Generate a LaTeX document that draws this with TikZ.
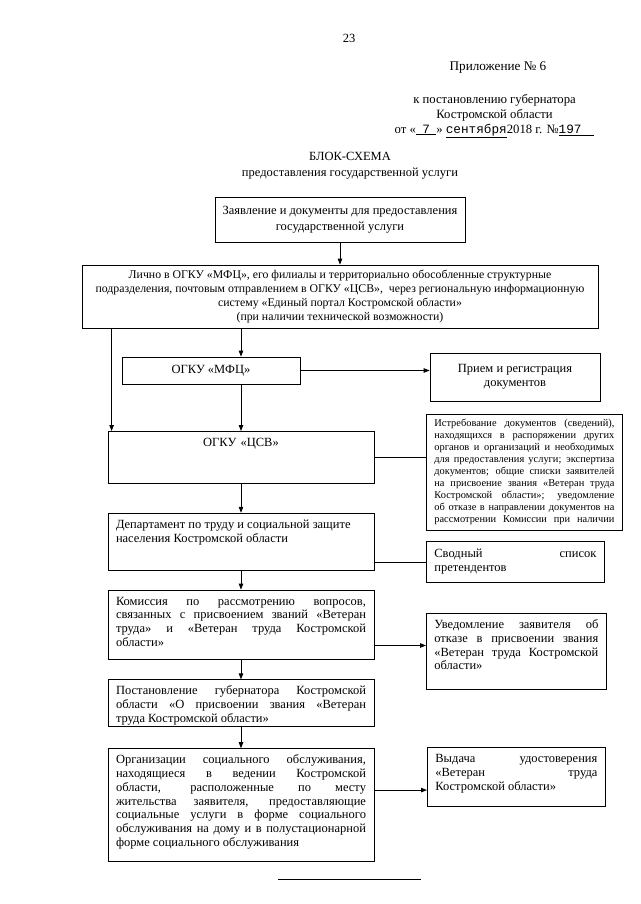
\documentclass[tikz,border=0pt]{standalone}
\usepackage{fontspec}
\setmainfont{Liberation Serif}
\setmonofont{Liberation Mono}
\usepackage{tikz}
\usetikzlibrary{arrows.meta, positioning, calc}

\begin{document}
\begin{tikzpicture}[
    x=1pt, y=-1pt,
    font=\fontsize{12.5}{13.8}\selectfont,
    block/.style={rectangle, draw, line width=0.8pt, text width=250pt,
                  inner xsep=8pt, inner ysep=4pt, align=justify, text height=11pt},
    side/.style={rectangle, draw, line width=0.8pt, anchor=north west,
                 inner xsep=8pt, inner ysep=4pt, align=justify},
    plain/.style={rectangle, draw, line width=0.8pt, align=center},
    arrow/.style={-{Triangle[length=6pt, width=4.5pt]}, line width=0.8pt},
    link/.style={line width=0.8pt}
]
\path[fill=white, use as bounding box] (0,0) rectangle (640,904);

% Header
\node (page) at (349,38) {23};
\node[font=\fontsize{13.2}{15}\selectfont] (annex) at (498,68) {Приложение № 6};
\node[align=center, font=\fontsize{12.7}{15}\selectfont] (decree) at (494.5,116)
    {к постановлению губернатора\\Костромской области\\
     от «\underline{\ \ \texttt{7}\ \ }» \underline{\texttt{сентября}}2018 г. №\underline{\texttt{197}\ \ \ \ }};
\node[align=center, font=\fontsize{12.5}{16}\selectfont] (title) at (350,166)
    {БЛОК-СХЕМА\\предоставления государственной услуги};

% Top boxes
\node[plain, minimum width=250pt, minimum height=45pt, font=\fontsize{12.5}{16}\selectfont] (claim) at (340,219.5)
    {Заявление и документы для предоставления\\государственной услуги};
\node[plain, minimum width=516pt, minimum height=63pt, font=\fontsize{11.8}{14}\selectfont] (lichno) at (340,296.5)
    {Лично в ОГКУ «МФЦ», его филиалы и территориально обособленные структурные\\
     подразделения, почтовым отправлением в ОГКУ «ЦСВ», \ через региональную информационную\\
     систему «Единый портал Костромской области»\\(при наличии технической возможности)};
\node[plain, minimum width=178pt, minimum height=27pt] (mfc) at (211,370.5) {ОГКУ «МФЦ»};
\node[plain, minimum width=170pt, minimum height=48pt] (priem) at (515,377)
    {Прием и регистрация\\документов};

% Left column
\node[block, align=center, anchor=north, text depth=33pt] (csv) at (241,431) {ОГКУ «ЦСВ»};
\node[block, below=29pt of csv, text depth=38pt] (dept)
    {Департамент по труду и социальной защите\newline населения Костромской области};
\node[block, below=19pt of dept, text depth=50pt] (komis)
    {Комиссия по рассмотрению вопросов,\linebreak связанных с присвоением званий «Ветеран\linebreak
     труда» и «Ветеран труда Костромской\linebreak области»};
\node[block, below=20pt of komis, text depth=28pt] (postan)
    {Постановление губернатора Костромской\linebreak области «О присвоении звания «Ветеран\linebreak
     труда Костромской области»};
\node[block, below=21pt of postan, text depth=94pt] (org)
    {Организации социального обслуживания,\linebreak находящиеся в ведении Костромской\linebreak
     области, расположенные по месту\linebreak жительства заявителя, предоставляющие\linebreak
     социальные услуги в форме социального\linebreak обслуживания на дому и в полустационарной\linebreak
     форме социального обслуживания};

% Right column
\node[side, text width=180pt, font=\fontsize{10.4}{12}\selectfont, text height=8pt, text depth=100pt] (istr) at (426,414)
    {\parfillskip=0pt Истребование документов (сведений),\linebreak находящихся в распоряжении других\linebreak
     органов и организаций и необходимых\linebreak для предоставления услуги; экспертиза\linebreak
     документов; общие списки заявителей\linebreak на присвоение звания «Ветеран труда\linebreak
     Костромской области»; уведомление\linebreak об отказе в направлении документов на\linebreak
     рассмотрении Комиссии при наличии\par};
\node[side, text width=162pt, minimum height=41pt] (svod) at (426,541)
    {Сводный список\linebreak претендентов};
\node[side, text width=164pt, text height=11pt, text depth=57pt] (uved) at (426,613)
    {Уведомление заявителя об\linebreak отказе в присвоении звания\linebreak
     «Ветеран труда Костромской\linebreak области»};
\node[side, text width=162pt, text height=11pt, text depth=40pt] (vyd) at (427,747)
    {Выдача удостоверения\linebreak «Ветеран труда\linebreak Костромской области»};

% Connectors
\draw[arrow] (claim) -- (lichno);
\draw[arrow] ([xshift=4pt]csv.north west |- lichno.south) -- ([xshift=4pt]csv.north west);
\draw[arrow] (csv.north |- lichno.south) -- (csv.north |- mfc.north);
\draw[arrow] (csv.north |- mfc.south) -- (csv.north);
\draw[arrow] (mfc) -- (mfc -| priem.west);
\draw[link] (csv) -- (csv -| istr.west);
\draw[arrow] (csv) -- (dept);
\draw[link] (svod -| dept.east) -- (svod);
\draw[arrow] (dept) -- (komis);
\draw[arrow] ([yshift=-21pt]komis.east) -- ([yshift=-21pt]komis.east -| uved.west);
\draw[arrow] (komis) -- (postan);
\draw[arrow] (postan) -- (org);
\draw[arrow] ([yshift=15pt]org.east) -- ([yshift=15pt]org.east -| vyd.west);

% Closing line
\draw[link] (278,879) -- (421,879);
\end{tikzpicture}
\end{document}
